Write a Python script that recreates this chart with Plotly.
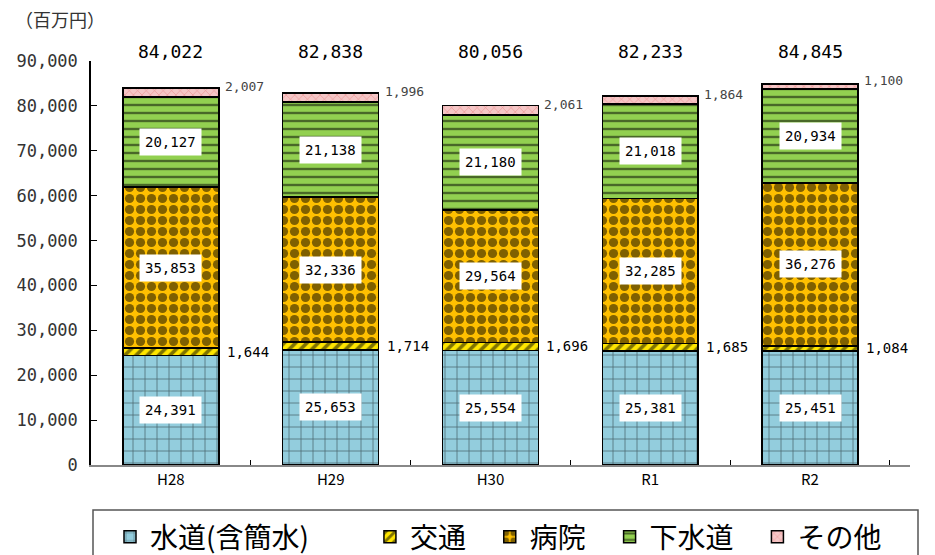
import plotly.graph_objects as go

categories = ["H28", "H29", "H30", "R1", "R2"]
water = [24391, 25653, 25554, 25381, 25451]
traffic = [1644, 1714, 1696, 1685, 1084]
hospital = [35853, 32336, 29564, 32285, 36276]
sewer = [20127, 21138, 21180, 21018, 20934]
other = [2007, 1996, 2061, 1864, 1100]
totals = [84022, 82838, 80056, 82233, 84845]
names = ["水道(含簡水)", "交通", "病院", "下水道", "その他"]
legend_pad = ["\u3000\u3000", "\u00a0\u00a0\u00a0", "\u00a0\u00a0\u00a0", "\u00a0\u00a0\u00a0", ""]
tick_vals = list(range(0, 90001, 10000))

FONT = "Noto Sans CJK JP"
MONO = "DejaVu Sans Mono"
fig = go.Figure()

series = [
    (water, "#93CDDD", dict(shape="+", size=12, solidity=0.12, fgcolor="#000000")),
    (traffic, "#FFE600", dict(shape="/", size=8, solidity=0.45, fgcolor="#000000")),
    (hospital, "#FFC000", dict(shape=".", size=11, solidity=0.55, fgcolor="#000000")),
    (sewer, "#92D050", dict(shape="-", size=8, solidity=0.3, fgcolor="#000000")),
    (other, "#F5C6C6", dict(shape="x", size=6, solidity=0.2, fgcolor="#E06060")),
]
for (vals, col, pat), nm, pad in zip(series, names, legend_pad):
    pat = dict(pat, bgcolor=col, fillmode="overlay")
    fig.add_trace(go.Bar(
        x=categories, y=vals, name=nm + pad,
        marker=dict(color=col, pattern=pat, line=dict(color="#000000", width=1.5)),
        hoverinfo="skip",
    ))

annotations = []
for i, c in enumerate(categories):
    base = 0
    stacks = [water[i], traffic[i], hospital[i], sewer[i], other[i]]
    mids = []
    for v in stacks:
        mids.append(base + v / 2)
        base += v
    for k in (0, 2, 3):
        annotations.append(dict(
            x=c, y=mids[k], xref="x", yref="y", text=f"{stacks[k]:,}",
            showarrow=False, bgcolor="#FFFFFF", borderpad=5,
            font=dict(family=MONO, size=14, color="#000000"),
        ))
    annotations.append(dict(
        x=c, y=mids[1], xref="x", yref="y", text=f"{stacks[1]:,}",
        showarrow=False, xanchor="left", xshift=54,
        font=dict(family=MONO, size=14, color="#000000"),
    ))
    annotations.append(dict(
        x=c, y=mids[4], xref="x", yref="y", text=f"{stacks[4]:,}",
        showarrow=False, xanchor="left", xshift=52, yshift=6,
        font=dict(family=MONO, size=13, color="#444444"),
    ))
    annotations.append(dict(
        x=c, y=1.0, xref="x", yref="paper", text=f"{totals[i]:,}",
        showarrow=False, yanchor="bottom", yshift=-3,
        font=dict(family=MONO, size=18, color="#000000"),
    ))

annotations.append(dict(
    x=0, y=1.0, xref="paper", yref="paper", text="（百万円）",
    showarrow=False, xanchor="center", yanchor="bottom", xshift=-31, yshift=27,
    font=dict(family=FONT, size=18, color="#333333"),
))

shapes = [dict(
    type="rect", xref="paper", yref="paper",
    x0=(93 - 91) / 819, x1=(918 - 91) / 819,
    y0=(465 - 570) / 404, y1=(465 - 510) / 404,
    line=dict(color="#555555", width=1.5), fillcolor="rgba(0,0,0,0)",
    layer="below",
)]

fig.update_layout(
    barmode="stack",
    bargap=0.4,
    width=935, height=555,
    margin=dict(l=91, r=25, t=61, b=90, autoexpand=False),
    plot_bgcolor="#FFFFFF", paper_bgcolor="#FFFFFF",
    font=dict(family=FONT, color="#000000"),
    annotations=annotations,
    shapes=shapes,
    showlegend=True,
    legend=dict(
        orientation="h", x=(110 - 91) / 819, y=(465 - 512) / 404,
        xanchor="left", yanchor="top",
        traceorder="normal",
        font=dict(family=FONT, size=28, color="#000000"),
        borderwidth=0, bgcolor="rgba(0,0,0,0)",
        itemwidth=30,
    ),
    xaxis=dict(
        showline=True, linecolor="#888888", linewidth=1.5,
        ticks="inside", ticklen=5, tickcolor="#000000", tickson="boundaries",
        tickfont=dict(family=FONT, size=15, color="#000000"),
        showgrid=False,
    ),
    yaxis=dict(
        range=[0, 90000], tickvals=tick_vals,
        ticktext=[f"{v:,}" for v in tick_vals],
        showline=True, linecolor="#000000", linewidth=1.5,
        ticks="inside", ticklen=6, tickcolor="#000000",
        tickfont=dict(family=MONO, size=17, color="#333333"),
        ticklabelstandoff=8,
        showgrid=False, zeroline=False,
    ),
)

fig.write_html(
    "out.html",
    config={"displayModeBar": False},
    post_script="document.body.style.margin='0';document.body.style.overflow='hidden';",
)
